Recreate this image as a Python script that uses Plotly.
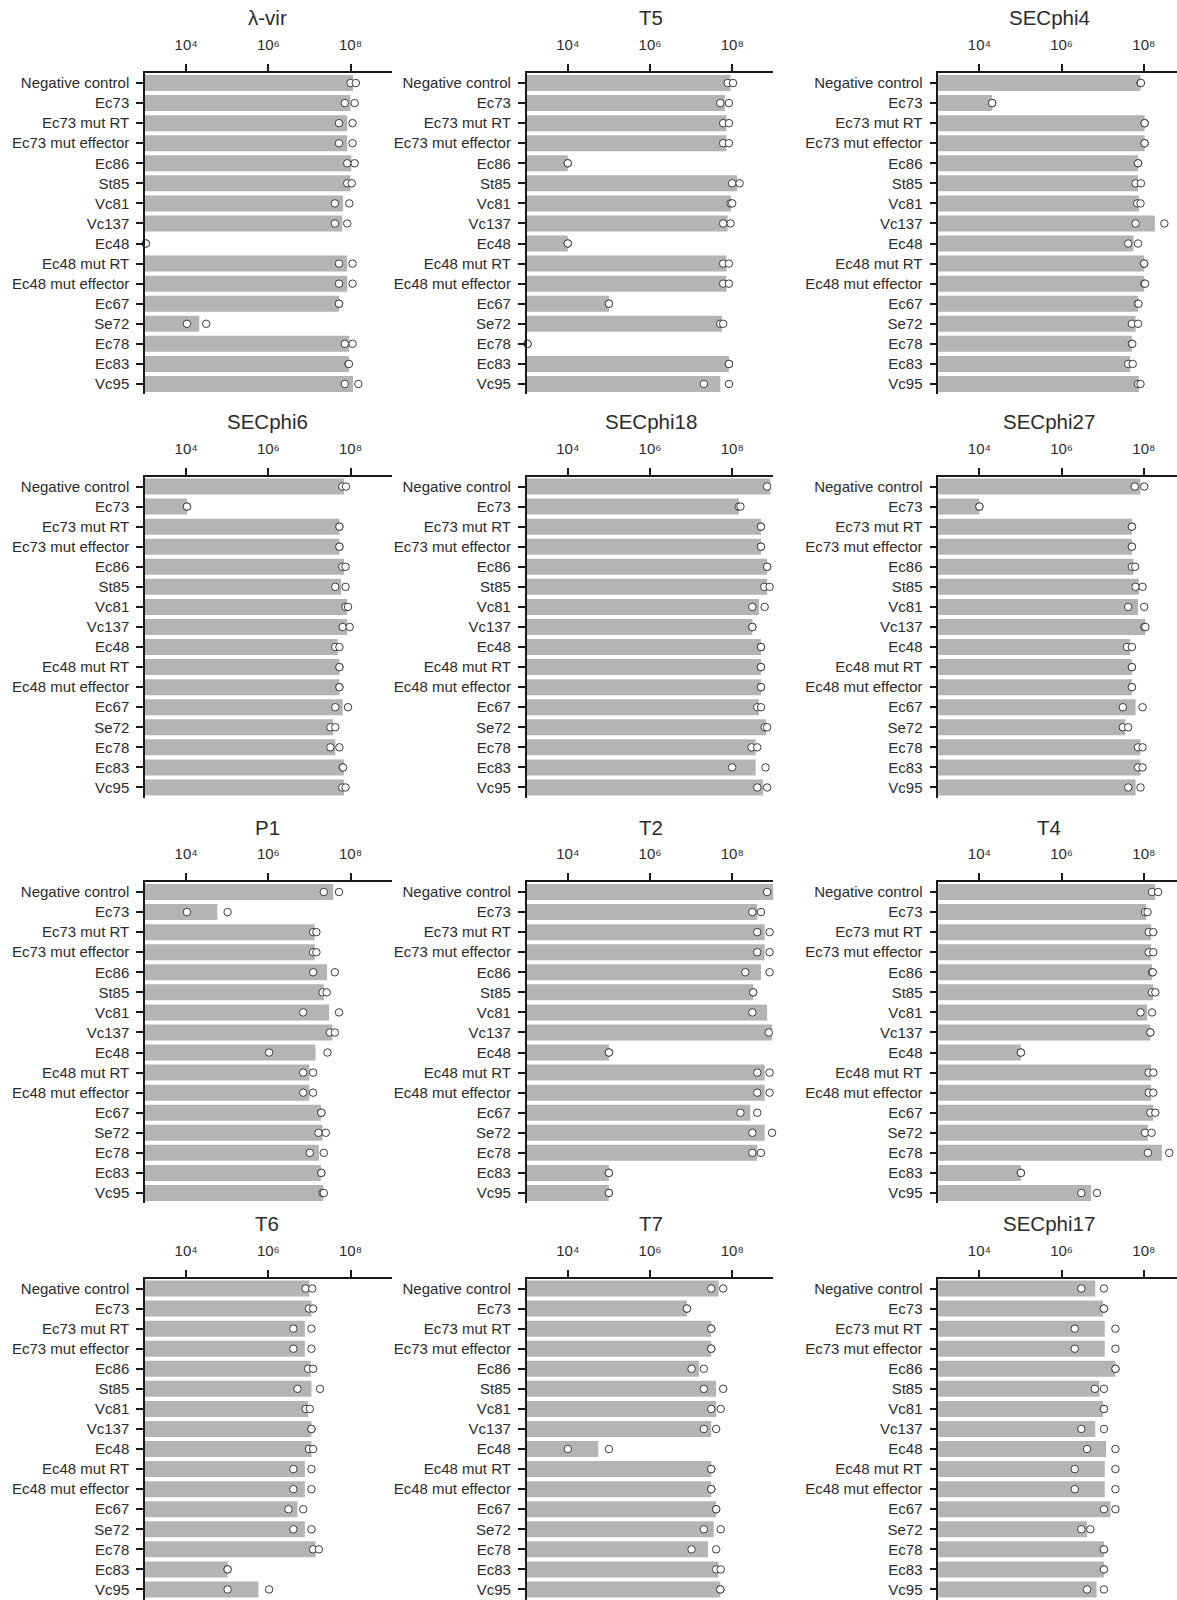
import plotly.graph_objects as go
import numpy as np

# ---------------- data (log10 of titer) ----------------
CATEGORIES = ["Negative control", "Ec73", "Ec73 mut RT", "Ec73 mut effector", "Ec86", "St85",
              "Vc81", "Vc137", "Ec48", "Ec48 mut RT", "Ec48 mut effector", "Ec67", "Se72",
              "Ec78", "Ec83", "Vc95"]

PANEL_TITLES = ["λ-vir", "T5", "SECphi4", "SECphi6", "SECphi18", "SECphi27",
                "P1", "T2", "T4", "T6", "T7", "SECphi17"]

TICK_VALUES = [1e4, 1e6, 1e8]
TICK_LABELS = ["10⁴", "10⁶", "10⁸"]

LAMBDA_BAR = [8.06, 8.00, 7.92, 7.92, 8.02, 8.00, 7.82, 7.80, 3.00, 7.92, 7.92, 7.72, 4.32, 7.97, 7.96, 8.06]
LAMBDA_R1 = [8.00, 7.86, 7.72, 7.72, 7.92, 7.92, 7.62, 7.62, 3.02, 7.72, 7.72, 7.72, 4.02, 7.86, 7.95, 7.86]
LAMBDA_R2 = [8.13, 8.10, 8.05, 8.05, 8.10, 8.03, 7.97, 7.92, 3.02, 8.05, 8.05, 7.72, 4.49, 8.05, 7.96, 8.19]

T5_BAR = [7.96, 7.82, 7.86, 7.86, 4.00, 8.12, 7.97, 7.89, 4.00, 7.86, 7.86, 5.00, 7.75, 3.00, 7.92, 7.71]
T5_R1 = [7.89, 7.71, 7.78, 7.78, 4.00, 8.00, 7.96, 7.78, 4.00, 7.78, 7.78, 5.00, 7.71, 3.02, 7.92, 7.31]
T5_R2 = [8.02, 7.92, 7.92, 7.92, 4.00, 8.18, 8.00, 7.96, 4.00, 7.92, 7.92, 5.00, 7.78, 3.02, 7.92, 7.92]

SECPHI4_BAR = [7.92, 4.31, 8.02, 8.02, 7.86, 7.86, 7.88, 8.27, 7.75, 8.01, 8.01, 7.86, 7.80, 7.71, 7.67, 7.88]
SECPHI4_R1 = [7.92, 4.31, 8.02, 8.02, 7.86, 7.80, 7.84, 7.80, 7.62, 8.01, 8.01, 7.86, 7.71, 7.71, 7.62, 7.86]
SECPHI4_R2 = [7.93, 4.31, 8.02, 8.02, 7.86, 7.93, 7.92, 8.50, 7.86, 8.01, 8.03, 7.87, 7.86, 7.72, 7.73, 7.92]

SECPHI6_BAR = [7.84, 4.02, 7.73, 7.73, 7.84, 7.77, 7.92, 7.92, 7.69, 7.73, 7.73, 7.81, 7.58, 7.63, 7.84, 7.84]
SECPHI6_R1 = [7.80, 4.02, 7.73, 7.73, 7.80, 7.63, 7.88, 7.81, 7.63, 7.73, 7.73, 7.63, 7.51, 7.51, 7.81, 7.80]
SECPHI6_R2 = [7.89, 4.02, 7.73, 7.73, 7.88, 7.88, 7.94, 7.98, 7.73, 7.73, 7.73, 7.94, 7.63, 7.73, 7.82, 7.88]

SECPHI18_BAR = [8.93, 8.16, 8.70, 8.70, 8.85, 8.85, 8.65, 8.49, 8.70, 8.70, 8.70, 8.65, 8.83, 8.57, 8.57, 8.75]
SECPHI18_R1 = [8.85, 8.16, 8.70, 8.70, 8.85, 8.78, 8.49, 8.49, 8.70, 8.70, 8.70, 8.61, 8.79, 8.47, 8.00, 8.61]
SECPHI18_R2 = [9.01, 8.20, 8.70, 8.70, 8.85, 8.91, 8.79, 8.49, 8.70, 8.70, 8.70, 8.70, 8.85, 8.61, 8.81, 8.85]

SECPHI27_BAR = [7.92, 4.00, 7.71, 7.71, 7.75, 7.88, 7.86, 8.04, 7.67, 7.71, 7.71, 7.80, 7.55, 7.92, 7.92, 7.80]
SECPHI27_R1 = [7.78, 4.00, 7.71, 7.71, 7.71, 7.80, 7.62, 8.01, 7.59, 7.71, 7.71, 7.49, 7.49, 7.86, 7.86, 7.62]
SECPHI27_R2 = [8.01, 4.00, 7.71, 7.71, 7.79, 7.97, 8.01, 8.04, 7.71, 7.71, 7.71, 7.97, 7.62, 7.97, 7.97, 7.92]

P1_BAR = [7.58, 4.76, 7.13, 7.13, 7.43, 7.35, 7.48, 7.56, 7.15, 7.00, 7.00, 7.28, 7.32, 7.23, 7.28, 7.34]
P1_R1 = [7.35, 4.02, 7.09, 7.09, 7.09, 7.32, 6.85, 7.50, 6.02, 6.85, 6.85, 7.29, 7.22, 7.01, 7.29, 7.32]
P1_R2 = [7.72, 5.01, 7.17, 7.17, 7.62, 7.42, 7.72, 7.62, 7.44, 7.09, 7.09, 7.29, 7.40, 7.35, 7.29, 7.35]

T2_BAR = [9.01, 8.61, 8.79, 8.79, 8.70, 8.51, 8.85, 8.97, 5.00, 8.79, 8.79, 8.44, 8.79, 8.61, 5.00, 5.00]
T2_R1 = [8.85, 8.49, 8.61, 8.61, 8.32, 8.51, 8.49, 8.89, 5.00, 8.61, 8.61, 8.20, 8.49, 8.49, 5.00, 5.00]
T2_R2 = [9.09, 8.70, 8.91, 8.91, 8.91, 8.51, 9.05, 9.01, 5.00, 8.91, 8.91, 8.61, 8.97, 8.70, 5.00, 5.00]

T4_BAR = [8.28, 8.06, 8.18, 8.18, 8.20, 8.23, 8.08, 8.16, 5.01, 8.18, 8.18, 8.23, 8.10, 8.44, 5.01, 6.72]
T4_R1 = [8.20, 8.03, 8.12, 8.12, 8.20, 8.20, 7.92, 8.16, 5.01, 8.12, 8.12, 8.16, 8.03, 8.10, 5.01, 6.48]
T4_R2 = [8.35, 8.09, 8.23, 8.23, 8.22, 8.28, 8.20, 8.16, 5.01, 8.23, 8.23, 8.28, 8.19, 8.62, 5.01, 6.86]

T6_BAR = [7.00, 7.05, 6.89, 6.89, 7.03, 7.05, 6.97, 7.05, 7.05, 6.89, 6.89, 6.71, 6.89, 7.15, 5.01, 5.76]
T6_R1 = [6.91, 6.99, 6.61, 6.61, 6.97, 6.71, 6.91, 7.05, 6.99, 6.61, 6.61, 6.49, 6.61, 7.09, 5.01, 5.01]
T6_R2 = [7.07, 7.09, 7.05, 7.05, 7.09, 7.26, 7.01, 7.05, 7.09, 7.05, 7.05, 6.85, 7.05, 7.23, 5.01, 6.02]

T7_BAR = [7.67, 6.90, 7.49, 7.49, 7.19, 7.61, 7.61, 7.49, 4.74, 7.49, 7.49, 7.61, 7.55, 7.41, 7.67, 7.71]
T7_R1 = [7.49, 6.90, 7.49, 7.49, 7.01, 7.31, 7.49, 7.31, 4.00, 7.49, 7.49, 7.61, 7.31, 7.01, 7.61, 7.71]
T7_R2 = [7.78, 6.90, 7.49, 7.49, 7.31, 7.78, 7.72, 7.61, 5.00, 7.49, 7.49, 7.61, 7.72, 7.61, 7.72, 7.71]

SECPHI17_BAR = [6.82, 7.01, 7.05, 7.05, 7.31, 6.92, 7.01, 6.82, 7.08, 7.05, 7.05, 7.19, 6.62, 7.03, 7.03, 6.85]
SECPHI17_R1 = [6.48, 7.03, 6.32, 6.32, 7.31, 6.81, 7.03, 6.48, 6.62, 6.32, 6.32, 7.03, 6.48, 7.03, 7.03, 6.62]
SECPHI17_R2 = [7.03, 7.03, 7.31, 7.31, 7.31, 7.03, 7.03, 7.03, 7.31, 7.31, 7.31, 7.31, 6.70, 7.03, 7.03, 7.03]

PANELS = [
    (LAMBDA_BAR, LAMBDA_R1, LAMBDA_R2), (T5_BAR, T5_R1, T5_R2), (SECPHI4_BAR, SECPHI4_R1, SECPHI4_R2),
    (SECPHI6_BAR, SECPHI6_R1, SECPHI6_R2), (SECPHI18_BAR, SECPHI18_R1, SECPHI18_R2),
    (SECPHI27_BAR, SECPHI27_R1, SECPHI27_R2),
    (P1_BAR, P1_R1, P1_R2), (T2_BAR, T2_R1, T2_R2), (T4_BAR, T4_R1, T4_R2),
    (T6_BAR, T6_R1, T6_R2), (T7_BAR, T7_R1, T7_R2), (SECPHI17_BAR, SECPHI17_R1, SECPHI17_R2),
]

# ---------------- layout geometry (pixels) ----------------
W, H = 1177, 1600
DECADE = 41.1
COL_LEFT = [145.0, 526.7, 938.3]
ROW_TOP = [73.0, 476.5, 882.0, 1278.5]
PLOT_H = 321.0
TITLE_X = [267, 651, 1049]

FONT = "Arial, Liberation Sans, sans-serif"
TEXT = "#2b2b2b"
BAR_COLOR = "#b4b4b4"
LINE = "#1a1a1a"

fig = go.Figure()
layout = dict(
    width=W, height=H, margin=dict(l=0, r=0, t=0, b=0),
    paper_bgcolor="white", plot_bgcolor="white", showlegend=False,
    font=dict(family=FONT, color=TEXT, size=15),
    bargap=0.2,
)
annotations = []

for i, (bar, r1, r2) in enumerate(PANELS):
    row, col = divmod(i, 3)
    n = i + 1
    xa = "x" if n == 1 else f"x{n}"
    ya = "y" if n == 1 else f"y{n}"
    left = COL_LEFT[col]
    right = min(left + 6 * DECADE, W)
    xmax = 3 + (right - left) / DECADE
    top = ROW_TOP[row]
    bottom = min(top + PLOT_H, H)

    fig.add_trace(go.Bar(
        x=10 ** np.array(bar), y=CATEGORIES, orientation="h",
        xaxis=xa, yaxis=ya, marker=dict(color=BAR_COLOR, line=dict(width=0)),
        width=0.8, hoverinfo="skip",
    ))
    fig.add_trace(go.Scatter(
        x=list(10 ** np.array(r1)) + list(10 ** np.array(r2)),
        y=CATEGORIES + CATEGORIES, mode="markers", xaxis=xa, yaxis=ya,
        marker=dict(symbol="circle", size=7.5, color="white",
                    line=dict(color="#3c3c3c", width=1)),
        cliponaxis=False, hoverinfo="skip",
    ))

    layout["xaxis" if n == 1 else f"xaxis{n}"] = dict(
        type="log", range=[3, xmax], domain=[left / W, right / W],
        anchor=ya, side="top", showgrid=False, zeroline=False,
        showline=True, linecolor=LINE, linewidth=2,
        ticks="outside", ticklen=7, tickwidth=1.5, tickcolor=LINE,
        tickvals=TICK_VALUES, ticktext=TICK_LABELS,
        tickfont=dict(size=15, color=TEXT, family=FONT),
        ticklabelstandoff=8,
    )
    layout["yaxis" if n == 1 else f"yaxis{n}"] = dict(
        type="category", categoryorder="array", categoryarray=CATEGORIES,
        range=[15.5, -0.5], domain=[1 - bottom / H, 1 - top / H],
        anchor=xa, showgrid=False, zeroline=False,
        showline=True, linecolor=LINE, linewidth=1.5,
        ticks="outside", ticklen=7, tickwidth=1.5, tickcolor=LINE,
        tickfont=dict(size=15, color=TEXT, family=FONT),
        ticklabelstandoff=4,
    )
    annotations.append(dict(
        text=PANEL_TITLES[i], xref="paper", yref="paper",
        x=TITLE_X[col] / W, y=1 - (top - 55) / H,
        xanchor="center", yanchor="middle", showarrow=False,
        font=dict(size=20.5, color=TEXT, family=FONT),
    ))

layout["annotations"] = annotations
fig.update_layout(**layout)
fig.write_html("out.html")
